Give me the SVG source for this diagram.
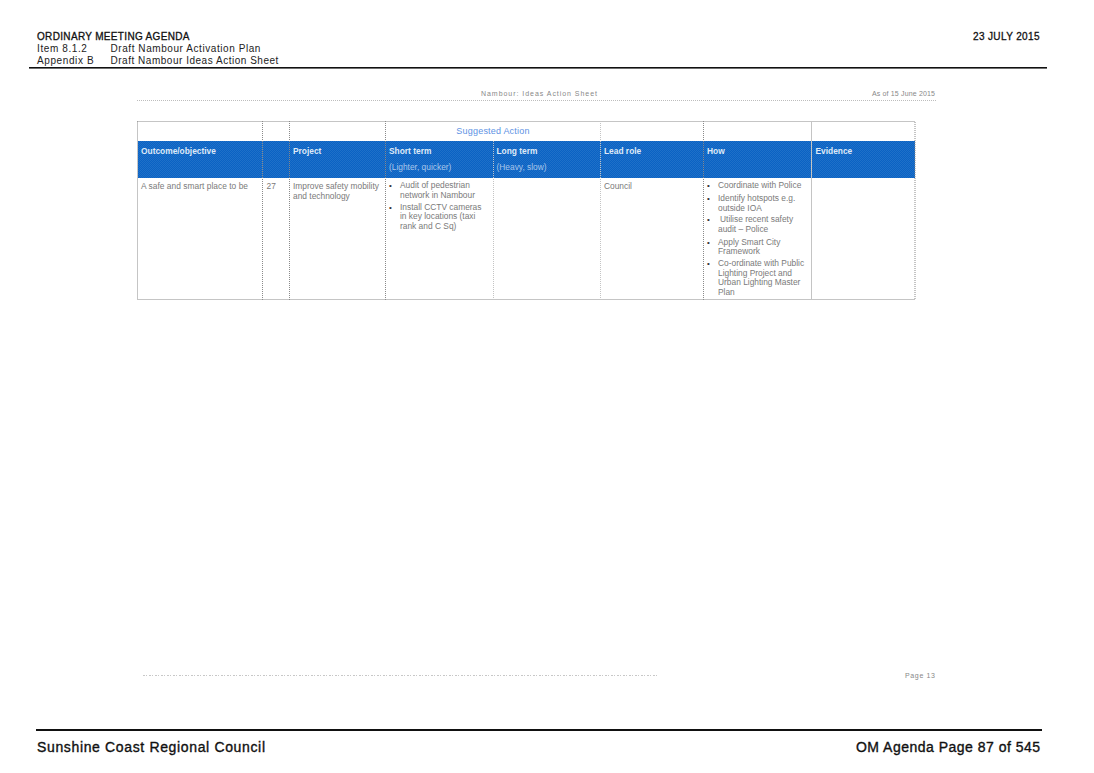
<svg xmlns="http://www.w3.org/2000/svg" width="1094" height="773" viewBox="0 0 1094 773">
<style>
text{font-family:"Liberation Sans",Arial,sans-serif}
.h{font-size:10px;fill:#222;letter-spacing:.6px}
.hb{font-size:10px;fill:#111;letter-spacing:.5px;stroke:#111;stroke-width:.3px}
.foot{font-size:14px;fill:#111;letter-spacing:1px;stroke:#111;stroke-width:.35px}
.c{font-size:8.4px;fill:#7a7a7a}
.w{font-size:8.4px;fill:#dfeaf8;font-weight:700}
.s{font-size:8.4px;fill:#a9c6ea}
.b{font-size:8px;fill:#333}
.g{stroke:#8a8a8a;stroke-width:1;fill:none;stroke-dasharray:1 1}
.l{stroke:#c4c4c4;stroke-width:1;fill:none}
.f{font-size:7px;fill:#888}
</style>
<defs>
<pattern id="dither" width="2" height="2" patternUnits="userSpaceOnUse">
<rect width="2" height="2" fill="#0a62c4"/>
<rect width="1" height="1" fill="#1f70c8"/>
<rect x="1" y="1" width="1" height="1" fill="#1f70c8"/>
</pattern>
</defs>
<rect width="1094" height="773" fill="#fff"/>
<g id="page-header">
<text class="hb" x="37" y="39.500" textLength="153">ORDINARY MEETING AGENDA</text>
<text class="hb" x="973" y="39.500" textLength="67">23 JULY 2015</text>
<text class="h" x="37" y="51.500">Item 8.1.2</text>
<text class="h" x="110.500" y="51.500" textLength="150.500">Draft Nambour Activation Plan</text>
<text class="h" x="37" y="63.500">Appendix B</text>
<text class="h" x="110.500" y="63.500" textLength="168.500">Draft Nambour Ideas Action Sheet</text>
<rect x="29" y="67" width="1018" height="1.600" fill="#111"/>
</g>
<g id="sheet-header">
<text class="f" x="481" y="96" textLength="116">Nambour: Ideas Action Sheet</text>
<text class="f" x="872" y="96" textLength="63">As of 15 June 2015</text>
<line x1="137" y1="100.500" x2="936" y2="100.500" stroke="#bdbdbd" stroke-dasharray="1 1"/>
</g>
<g id="table">
<rect x="138" y="141" width="777" height="37" fill="url(#dither)"/>
<rect class="g" x="137.500" y="121.500" width="777.500" height="178"/>
<line class="g" x1="262.500" y1="121" x2="262.500" y2="300"/>
<line class="g" x1="289.500" y1="121" x2="289.500" y2="300"/>
<line class="g" x1="385.500" y1="121" x2="385.500" y2="300"/>
<line class="l" x1="493.500" y1="141" x2="493.500" y2="300" stroke-dasharray="1 1"/>
<line class="l" x1="600.500" y1="121" x2="600.500" y2="300" stroke-dasharray="1 1"/>
<line class="g" x1="703.500" y1="121" x2="703.500" y2="300"/>
<line class="l" x1="811.500" y1="121" x2="811.500" y2="300"/>
<text x="493" y="133.500" text-anchor="middle" font-size="9" letter-spacing=".2" fill="#5e92e4">Suggested Action</text>
<text class="w" x="141" y="153.500">Outcome/objective</text>
<text class="w" x="293" y="153.500">Project</text>
<text class="w" x="389" y="153.500">Short term</text>
<text class="w" x="496.500" y="153.500">Long term</text>
<text class="w" x="604" y="153.500">Lead role</text>
<text class="w" x="707" y="153.500">How</text>
<text class="w" x="815.500" y="153.500">Evidence</text>
<text class="s" x="389" y="169.500">(Lighter, quicker)</text>
<text class="s" x="496.500" y="169.500">(Heavy, slow)</text>
<text class="c" x="141" y="188.500" textLength="107">A safe and smart place to be</text>
<text class="c" x="266.500" y="188.500">27</text>
<text class="c" x="293" y="188.500" textLength="86">Improve safety mobility</text>
<text class="c" x="293" y="198.500">and technology</text>
<text class="b" x="389" y="188">•</text>
<text class="c" x="400" y="188">Audit of pedestrian</text>
<text class="c" x="400" y="197.500">network in Nambour</text>
<text class="b" x="389" y="209.500">•</text>
<text class="c" x="400" y="209.500">Install CCTV cameras</text>
<text class="c" x="400" y="219">in key locations (taxi</text>
<text class="c" x="400" y="229">rank and C Sq)</text>
<text class="c" x="604" y="189">Council</text>
<text class="b" x="707" y="188">•</text>
<text class="c" x="718" y="188">Coordinate with Police</text>
<text class="b" x="707" y="200.500">•</text>
<text class="c" x="718" y="200.500">Identify hotspots e.g.</text>
<text class="c" x="718" y="210.500">outside IOA</text>
<text class="b" x="707" y="222">•</text>
<text class="c" x="720" y="222">Utilise recent safety</text>
<text class="c" x="718" y="232">audit – Police</text>
<text class="b" x="707" y="244.500">•</text>
<text class="c" x="718" y="244.500">Apply Smart City</text>
<text class="c" x="718" y="254">Framework</text>
<text class="b" x="707" y="265.500">•</text>
<text class="c" x="718" y="265.500">Co-ordinate with Public</text>
<text class="c" x="718" y="275.500">Lighting Project and</text>
<text class="c" x="718" y="285">Urban Lighting Master</text>
<text class="c" x="718" y="295">Plan</text>
</g>
<g id="sheet-footer">
<line x1="143" y1="675.500" x2="657" y2="675.500" stroke="#c8c8c8" stroke-dasharray="2 1 1 2"/>
<text class="f" x="905" y="677.500" textLength="30">Page 13</text>
</g>
<g id="page-footer">
<rect x="36" y="729" width="1006" height="2" fill="#111"/>
<text class="foot" x="37" y="752" textLength="229">Sunshine Coast Regional Council</text>
<text class="foot" x="856" y="752" textLength="185">OM Agenda Page 87 of 545</text>
</g>
</svg>
